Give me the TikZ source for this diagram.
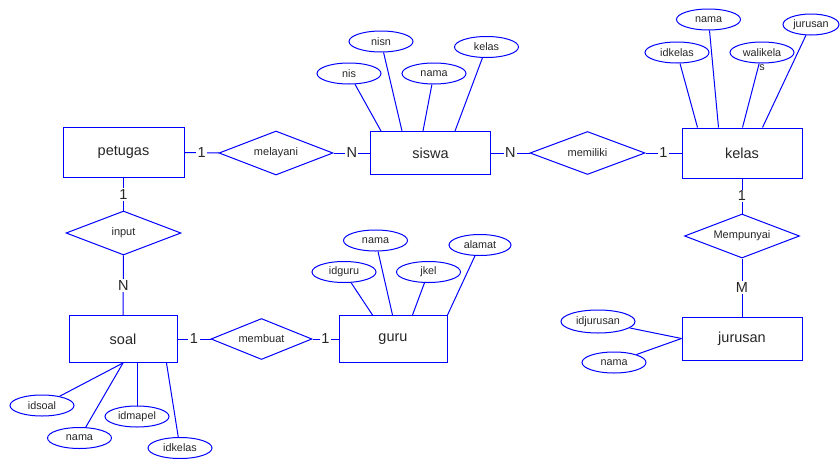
\documentclass[tikz,border=0pt]{standalone}
\usepackage{fontspec}
\setmainfont{Liberation Sans}
\usetikzlibrary{shapes.geometric}

\begin{document}
\begin{tikzpicture}[x=1pt,y=-1pt,
  entity/.style={draw=kBlue,line width=1pt,rectangle,inner sep=0pt,text=kText,font=\fontsize{14.5}{16}\selectfont},
  rel/.style={draw=kBlue,line width=1pt,diamond,aspect=2.6,inner sep=0pt,text=kText,font=\fontsize{11}{12}\selectfont},
  attr/.style={draw=kBlue,line width=1pt,ellipse,inner sep=0pt,minimum width=64pt,minimum height=21pt,text=kText,font=\fontsize{10.8}{12}\selectfont},
  link/.style={draw=kBlue,line width=1pt},
  card/.style={fill=white,inner sep=1.5pt,text=kText,font=\fontsize{14.5}{16}\selectfont}]
  % colors
  \definecolor{kBlue}{rgb}{0.0,0.0,1.0}
  \definecolor{kText}{rgb}{0.15,0.15,0.15}
  \useasboundingbox (0,0) rectangle (840,458);
  % entities
  \node[entity,minimum width=121pt,minimum height=50pt] (petugas) at (123.5,152.5) {petugas};
  \node[entity,minimum width=120pt,minimum height=43pt] (siswa) at (430.5,153) {siswa};
  \node[entity,minimum width=120pt,minimum height=50pt] (kelas) at (742,153) {kelas};
  \node[entity,minimum width=108pt,minimum height=47pt] (soal) at (123,339) {soal};
  \node[entity,minimum width=108pt,minimum height=47pt] (guru) at (393,339) {guru};
  \node[entity,minimum width=120pt,minimum height=43pt] (jurusan) at (742,338.5) {jurusan};
  % relations
  \node[rel,minimum width=114pt,minimum height=44pt] (melayani) at (276,153) {melayani};
  \node[rel,minimum width=115pt,minimum height=43pt] (memiliki) at (587.5,153) {memiliki};
  \node[rel,minimum width=115pt,minimum height=44pt] (input) at (123.5,233) {input};
  \node[rel,minimum width=115pt,minimum height=44pt] (mempunyai) at (742,236) {Mempunyai};
  \node[rel,minimum width=101pt,minimum height=41pt] (membuat) at (261.5,339) {membuat};
  % cardinalities
  \draw[link] (petugas) -- node[card] {1} (melayani);
  \draw[link] (melayani) -- node[card] {N} (siswa);
  \draw[link] (siswa) -- node[card] {N} (memiliki);
  \draw[link] (memiliki) -- node[card] {1} (kelas);
  \draw[link] (petugas) -- node[card] {1} (input);
  \draw[link] (input) -- node[card] {N} (soal);
  \draw[link] (kelas) -- node[card] {1} (mempunyai);
  \draw[link] (mempunyai) -- node[card] {M} (jurusan);
  \draw[link] (soal) -- node[card] {1} (membuat);
  \draw[link] (membuat) -- node[card] {1} (guru);
  % siswa attributes
  \node[attr] (nis) at (349,73.5) {nis};
  \node[attr] (nisn) at (381,41.5) {nisn};
  \node[attr] (snama) at (434,73.5) {nama};
  \node[attr] (skelas) at (486.5,47) {kelas};
  \draw[link] (nis) -- ([xshift=11pt]siswa.north west);
  \draw[link] (nisn) -- ([xshift=32pt]siswa.north west);
  \draw[link] (snama) -- ([xshift=53pt]siswa.north west);
  \draw[link] (skelas) -- ([xshift=85pt]siswa.north west);
  % kelas attributes
  \node[attr] (idkelas) at (677,52.5) {idkelas};
  \node[attr] (knama) at (708.5,19.5) {nama};
  \node[attr,label={[text=kText,font=\fontsize{10.8}{12}\selectfont,inner sep=0pt,yshift=-1pt]below:s}] (walikelas) at (762,52.5) {walikela};
  \node[attr,minimum width=56pt] (kjurusan) at (811,24.5) {jurusan};
  \draw[link] (idkelas) -- ([xshift=16pt]kelas.north west);
  \draw[link] (knama) -- ([xshift=37pt]kelas.north west);
  \draw[link] (walikelas) -- ([xshift=61pt]kelas.north west);
  \draw[link] (kjurusan) -- ([xshift=81pt]kelas.north west);
  % guru attributes
  \node[attr] (idguru) at (344,272) {idguru};
  \node[attr] (gnama) at (375.5,240.5) {nama};
  \node[attr] (jkel) at (428.5,272) {jkel};
  \node[attr,minimum width=62pt] (alamat) at (480,245) {alamat};
  \draw[link] (idguru) -- ([xshift=34pt]guru.north west);
  \draw[link] (gnama) -- ([xshift=54pt]guru.north west);
  \draw[link] (jkel) -- ([xshift=74pt]guru.north west);
  \draw[link] (alamat) -- (guru.north east);
  % soal attributes
  \node[attr] (idsoal) at (42,405.5) {idsoal};
  \node[attr] (onama) at (79.5,438) {nama};
  \node[attr] (idmapel) at (137,416.5) {idmapel};
  \node[attr] (oidkelas) at (180,448) {idkelas};
  \draw[link] (idsoal) -- (soal.south);
  \draw[link] (onama) -- (soal.south);
  \draw[link] (idmapel) -- (idmapel |- soal.south);
  \draw[link] (oidkelas) -- ([xshift=98pt]soal.south west);
  % jurusan attributes
  \node[attr,minimum width=74pt,minimum height=23pt] (idjurusan) at (598,321.5) {idjurusan};
  \node[attr] (jnama) at (614,362.5) {nama};
  \draw[link] (idjurusan) -- (jurusan.west);
  \draw[link] (jnama) -- (jurusan.west);
\end{tikzpicture}
\end{document}
